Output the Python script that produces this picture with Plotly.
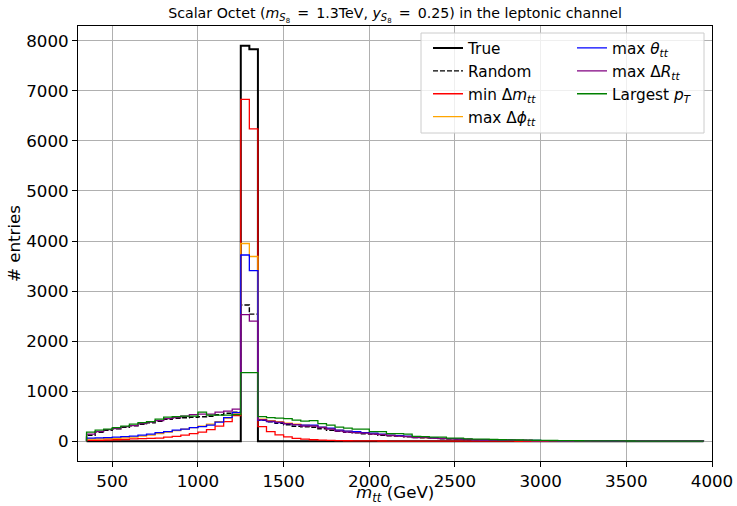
import plotly.graph_objects as go

# ---- data -------------------------------------------------------------
bin_start = 350
bin_width = 50
n_bins = 72
bin_edges = [bin_start + bin_width * i for i in range(n_bins + 1)]

true_counts = [0] * 18 + [7900, 7830] + [0] * 52

random_counts = [120, 180, 220, 250, 280, 310, 340, 370, 400, 440, 460, 470, 480, 490, 500, 530, 560, 580,
                 2720, 2540,
                 420, 390, 360, 330, 300, 290, 280, 250, 220, 200, 180, 170, 150, 140, 120, 110, 100, 90,
                 72, 68, 58, 50, 45, 40, 34, 30, 27, 24, 21, 19, 17, 15, 13, 11, 10, 9, 8, 7, 6, 5,
                 5, 4, 3, 3, 3, 2, 2, 1, 1, 1, 1, 1]

min_dm_counts = [20, 20, 25, 30, 35, 45, 50, 55, 60, 80, 95, 120, 150, 180, 230, 300, 390, 510,
                 6830, 6240,
                 290, 190, 125, 85, 55, 40, 30, 22, 17, 13, 10, 8, 7, 6, 5, 4, 4, 3, 3, 2,
                 2, 2, 2, 1, 1, 1, 1, 1, 1, 1, 0, 0, 0, 0, 0, 0, 0, 0, 0, 0, 0, 0, 0, 0, 0, 0,
                 0, 0, 0, 0, 0, 0]

max_dphi_counts = [40, 45, 50, 55, 65, 80, 100, 120, 150, 180, 210, 240, 270, 300, 340, 390, 460, 560,
                   3950, 3690,
                   440, 410, 390, 360, 340, 320, 310, 280, 250, 220, 200, 180, 170, 150, 135, 120, 105, 95,
                   80, 72, 62, 55, 48, 42, 37, 32, 29, 26, 23, 20, 18, 16, 14, 12, 11, 10, 8, 7, 6, 6,
                   5, 4, 4, 3, 3, 2, 2, 2, 1, 1, 1, 1]

max_theta_counts = [60, 65, 70, 80, 90, 100, 120, 140, 170, 190, 220, 240, 270, 290, 320, 380, 470, 570,
                    3720, 3410,
                    420, 390, 370, 350, 330, 320, 320, 280, 260, 220, 200, 190, 170, 160, 140, 120, 110, 100,
                    80, 75, 65, 55, 50, 45, 38, 34, 30, 27, 24, 21, 19, 17, 15, 13, 11, 10, 9, 8, 7, 6,
                    5, 5, 4, 4, 3, 3, 2, 2, 2, 1, 1, 1]

max_dr_counts = [140, 190, 230, 250, 290, 310, 350, 380, 410, 450, 470, 500, 530, 540, 540, 580, 600, 640,
                 2530, 2400,
                 430, 400, 380, 350, 330, 300, 300, 270, 240, 200, 180, 170, 160, 140, 130, 110, 100, 90,
                 70, 70, 60, 50, 45, 40, 35, 30, 28, 25, 22, 20, 18, 15, 14, 12, 10, 9, 8, 7, 6, 5,
                 5, 4, 4, 3, 3, 2, 2, 2, 1, 1, 1, 1]

largest_pt_counts = [180, 220, 240, 270, 300, 340, 370, 390, 440, 480, 490, 500, 500, 580, 520, 520, 520, 530,
                     1370, 1370,
                     490, 470, 460, 450, 420, 400, 410, 350, 320, 280, 260, 240, 240, 190, 190, 150, 150, 140,
                     95, 90, 80, 80, 60, 60, 45, 40, 40, 35, 30, 28, 25, 22, 20, 18, 15, 14, 12, 10, 9, 8,
                     7, 6, 6, 5, 4, 4, 3, 3, 2, 2, 2, 1]

series_names = ["True", "Random",
                "min Δ<i>m</i><sub><i>tt</i></sub>",
                "max Δ<i>ϕ</i><sub><i>tt</i></sub>",
                "max <i>θ</i><sub><i>tt</i></sub>",
                "max Δ<i>R</i><sub><i>tt</i></sub>",
                "Largest <i>p</i><sub><i>T</i></sub>"]
series_values = [true_counts, random_counts, min_dm_counts, max_dphi_counts,
                 max_theta_counts, max_dr_counts, largest_pt_counts]
series_colors = ["black", "black", "red", "orange", "blue", "purple", "green"]
series_widths = [2, 1.4, 1.3, 1.3, 1.3, 1.3, 1.3]
series_dash = ["solid", "5px,2px", "solid", "solid", "solid", "solid", "solid"]
series_legend = ["legend", "legend", "legend", "legend", "legend2", "legend2", "legend2"]

x_title = "<i>m</i><sub><i>tt</i></sub> (GeV)"
y_title = "# entries"

# ---- figure -----------------------------------------------------------
fig = go.Figure()
for i, (name, vals) in enumerate(zip(series_names, series_values)):
    xs = [bin_edges[0]] + bin_edges[:-1] + [bin_edges[-1], bin_edges[-1]]
    ys = [0] + list(vals) + [vals[-1], 0]
    fig.add_trace(go.Scatter(
        x=xs, y=ys, mode="lines", line_shape="hv", name=name,
        line=dict(color=series_colors[i], width=series_widths[i], dash=series_dash[i]),
        legend=series_legend[i], legendgroup=f"g{i}", showlegend=True,
    ))

W, H = 737, 506
L, R, T, B = 78, 25, 26, 45
pw, ph = W - L - R, H - T - B

def px_x(p):
    return (p - L) / pw

def px_y(p):
    return 1 - (p - T) / ph

font_family = "DejaVu Sans"
axis_common = dict(
    showline=True, mirror=True, linecolor="black", linewidth=1,
    ticks="outside", ticklen=5, tickwidth=1, tickcolor="black",
    showgrid=True, gridcolor="#b0b0b0", gridwidth=1, zeroline=False,
    tickfont=dict(size=16.7, color="black", family=font_family),
)

ES = "\u2002"  # en space, approximates mathtext spacing around '='
fig.update_layout(
    width=W, height=H,
    margin=dict(l=L, r=R, t=T, b=B, autoexpand=False),
    paper_bgcolor="white", plot_bgcolor="white",
    font=dict(family=font_family, color="black"),
    title=dict(
        text=f"Scalar Octet (<i>m</i><sub><i>S</i><sub>8</sub></sub>{ES}={ES}1.3TeV, "
             f"<i>y</i><sub><i>S</i><sub>8</sub></sub>{ES}={ES}0.25) in the leptonic channel",
        x=px_x(L + pw / 2), xref="paper", xanchor="center",
        y=1 - 13 / H, yref="container", yanchor="middle",
        font=dict(size=14.2, color="black", family=font_family),
    ),
    xaxis=dict(range=[300, 4000], tick0=500, dtick=500, **axis_common),
    yaxis=dict(range=[-395, 8295], tick0=0, dtick=1000,
               title=dict(text=y_title, standoff=1,
                          font=dict(size=16.7, family=font_family)),
               **axis_common),
    legend=dict(x=px_x(428), y=px_y(31.5), xanchor="left", yanchor="top",
                bgcolor="rgba(0,0,0,0)", borderwidth=0, tracegroupgap=0,
                font=dict(size=15.3, family=font_family, color="black")),
    legend2=dict(x=px_x(572), y=px_y(31.5), xanchor="left", yanchor="top",
                 bgcolor="rgba(0,0,0,0)", borderwidth=0, tracegroupgap=0,
                 font=dict(size=15.3, family=font_family, color="black")),
    shapes=[dict(type="rect", xref="paper", yref="paper",
                 x0=px_x(421), x1=px_x(704), y0=px_y(133), y1=px_y(33),
                 line=dict(color="#cccccc", width=1),
                 fillcolor="rgba(255,255,255,0.8)", layer="above")],
    annotations=[dict(text=x_title, xref="paper", yref="paper",
                      x=0.5, y=px_y(506), xanchor="center", yanchor="bottom",
                      showarrow=False, borderpad=0,
                      font=dict(size=16.7, family=font_family, color="black"))],
    showlegend=True,
)

fig.write_html("out.html")
